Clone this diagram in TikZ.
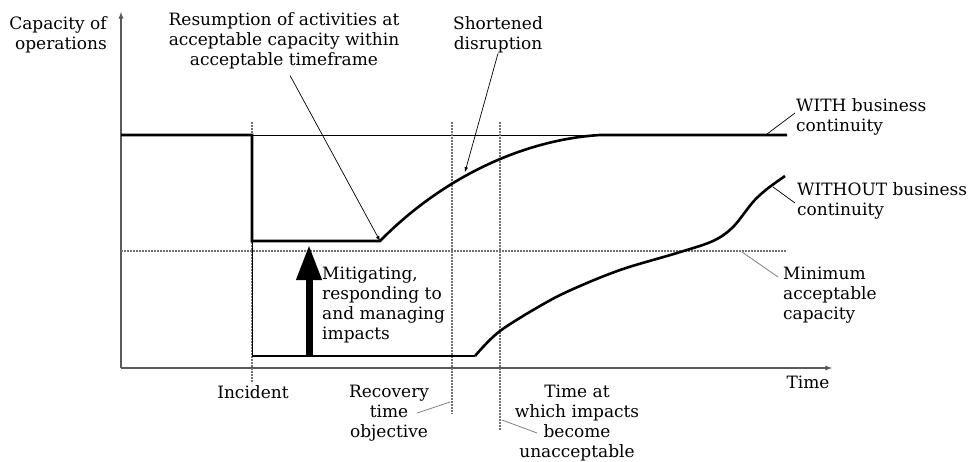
\documentclass[tikz,border=0pt]{standalone}
\usepackage{fontspec}
\setmainfont{DejaVu Serif}
\usetikzlibrary{arrows.meta,calc}
\tikzset{
	lbl/.style={inner sep=0pt,font=\fontsize{17}{20}\selectfont},
	heavy/.style={line width=2.6pt,line join=miter},
	marker/.style={gray!90!black,line width=1.2pt,dash pattern=on 2pt off 1pt},
	leader/.style={line width=0.7pt},
	softleader/.style={gray,line width=0.8pt}
}
\begin{document}
\begin{tikzpicture}[x=1pt,y=-1pt,>=latex]
	\useasboundingbox (0,0) rectangle (968,462);
	% axes
	\coordinate (O) at (121,368);
	\coordinate (ytop) at (121,12);
	\coordinate (xend) at (832,368);
	\draw[->,gray!70!black,line width=1.3pt] (O) -- (ytop);
	\draw[->,gray!70!black,line width=1.3pt] (O) -- (xend);
	% reference levels
	\coordinate (full0) at (121,135);
	\coordinate (full1) at (787,135);
	\coordinate (min0) at (121,251);
	\coordinate (min1) at (787,251);
	\draw[line width=0.7pt] (full0) -- (full1);
	\draw[marker] (min0) -- (min1);
	% time markers
	\coordinate (inc0) at (252,122);	\coordinate (inc1) at (252,383);
	\coordinate (rto0) at (452,122);	\coordinate (rto1) at (452,414);
	\coordinate (una0) at (500,122);	\coordinate (una1) at (500,430);
	\draw[marker] (inc0) -- (inc1);
	\draw[marker] (rto0) -- (rto1);
	\draw[marker] (una0) -- (una1);
	% WITH business continuity
	\coordinate (drop) at (252,241);
	\coordinate (resume) at (380,241);
	\coordinate (back) at (600,135);
	\draw[heavy] (full0) -- (252,135) -- (drop) -- (resume)
		.. controls (440,180) and (520,140) .. (back) -- (full1);
	% WITHOUT business continuity
	\coordinate (low0) at (252,356);
	\coordinate (low1) at (475,356);
	\draw[line width=1pt] (drop) -- (low0);
	\draw[heavy] (low0) -- (low1);
	\draw[heavy] plot[smooth,tension=0.55] coordinates {(475,356) (500,331) (547,302) (580,286) (623,269) (677,253) (713,241) (733,227) (753,202) (767,189) (785,176)};
	% mitigation arrow
	\coordinate (mitb) at (309,356);
	\coordinate (mitt) at (309,245);
	\draw[-{Triangle[length=35pt,width=24pt]},line width=7pt] (mitb) -- (mitt);
	% labels
	\node[lbl,align=right] (cap) at (58,35) {Capacity of\\operations};
	\node[lbl] (time) at (808,382) {Time};
	\node[lbl,align=center] (res) at (284,41) {Resumption of activities at\\acceptable capacity within\\acceptable timeframe};
	\node[lbl,align=center] (short) at (498,35) {Shortened\\disruption};
	\node[lbl,align=left,anchor=west] (with) at (796,117) {WITH business\\continuity};
	\node[lbl,align=left,anchor=west] (without) at (797,201) {WITHOUT business\\continuity};
	\node[lbl,align=left,anchor=west] (minacc) at (783,295) {Minimum\\acceptable\\capacity};
	\node[lbl,align=left,anchor=west] (mit) at (322,305) {Mitigating,\\responding to\\and managing\\impacts};
	\node[lbl] (inc) at (253,392) {Incident};
	\node[lbl,align=center] (rto) at (389,413) {Recovery\\time\\objective};
	\node[lbl,align=center] (una) at (577,423) {Time at\\which impacts\\become\\unacceptable};
	% leaders
	\coordinate (shorthit) at (465,172);
	\coordinate (withhit) at (767,134);
	\coordinate (withouthit) at (773,187);
	\coordinate (minhit) at (742,252);
	\coordinate (rtohit) at (450,402);
	\coordinate (unahit) at (502,420);
	\draw[leader,->] ($(res.south)+(6,6)$) -- (resume);
	\draw[leader,->] (short.south) -- (shorthit);
	\draw[leader] ($(with.west)+(-1,-4)$) -- (withhit);
	\draw[leader] ($(without.west)+(-2,2)$) -- (withouthit);
	\draw[softleader] ($(minacc.west)+(-5,-18)$) -- (minhit);
	\draw[softleader] ($(rto.center)+(28,0)$) -- (rtohit);
	\draw[softleader] ($(una.center)+(-40,10)$) -- (unahit);
\end{tikzpicture}
\end{document}
